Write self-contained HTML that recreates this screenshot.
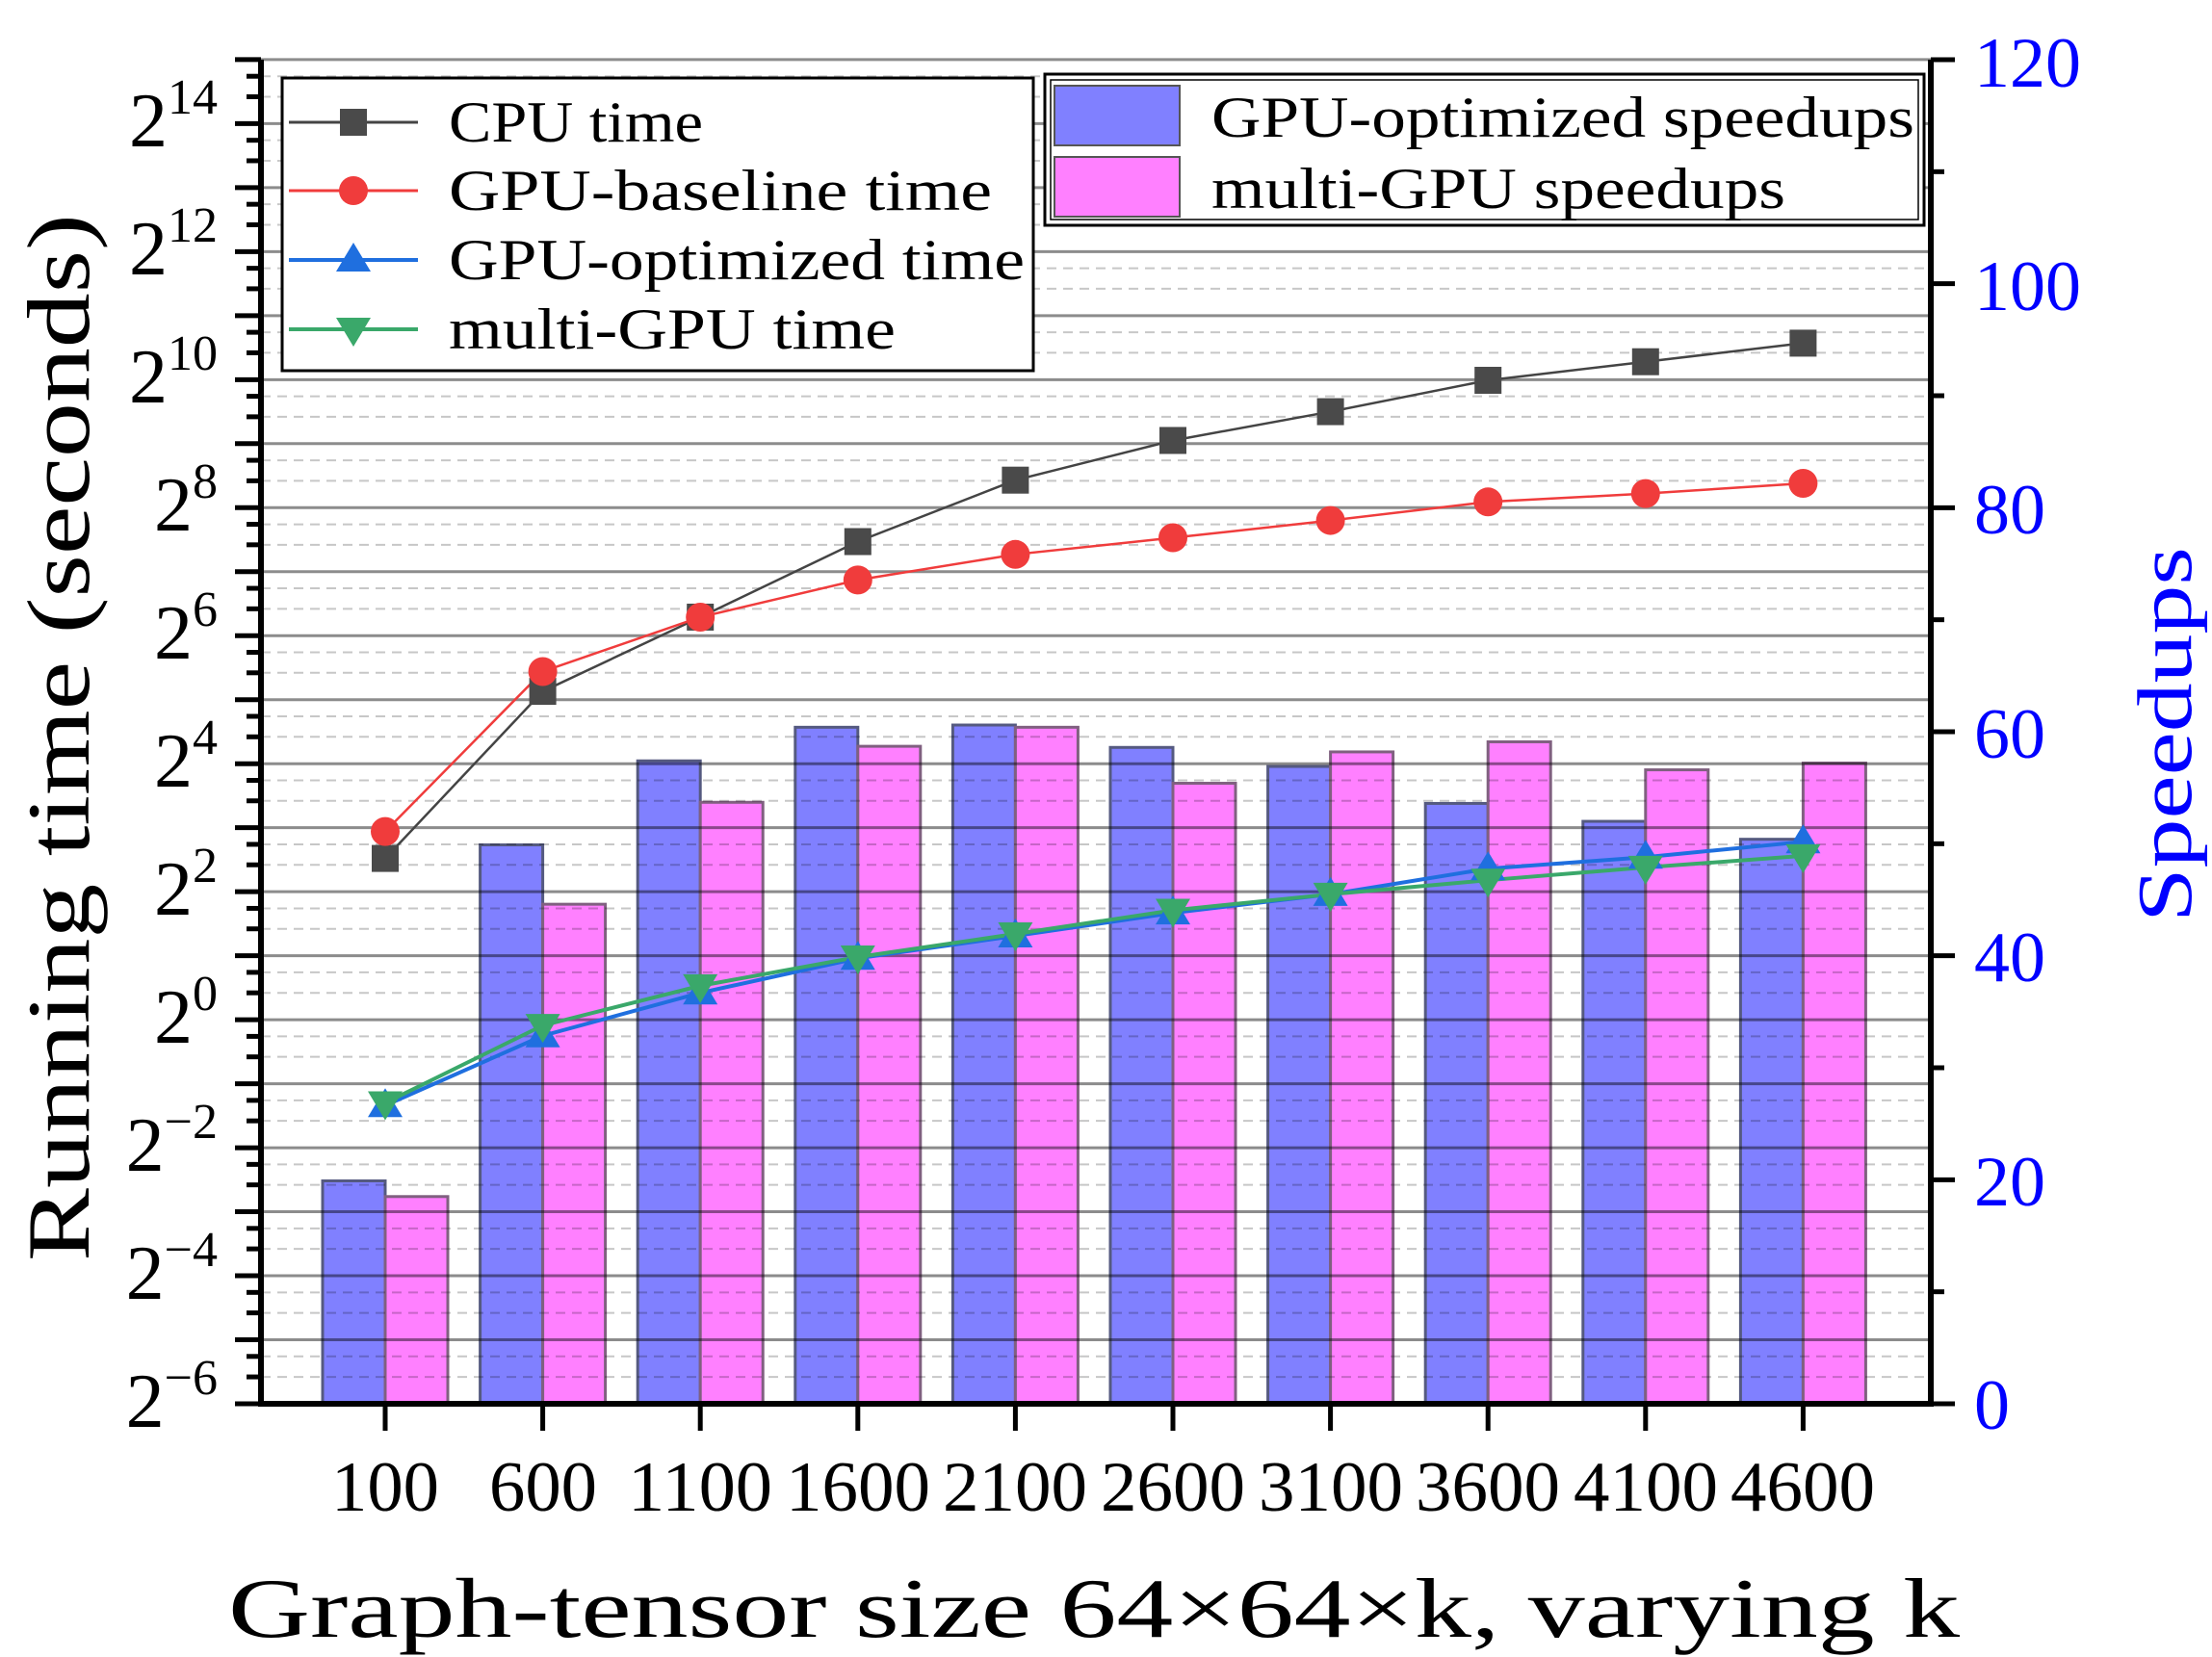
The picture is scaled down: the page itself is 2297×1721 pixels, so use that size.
<!DOCTYPE html>
<html><head><meta charset="utf-8"><style>
html,body{margin:0;padding:0;background:#fff;}
svg{display:block;}
text{font-family:"Liberation Serif","Noto Serif CJK SC",serif;}
</style></head><body>
<svg id="s" width="2297" height="1721" viewBox="0 0 2297 1721" xmlns="http://www.w3.org/2000/svg">
<g id="bars"></g>
<g id="grid"></g>
<g id="lines"></g>
<g id="axes"></g>
<!-- left y labels -->
<g font-size="80" text-anchor="end">
<text x="226" y="1482">2<tspan font-size="52" dy="-34">−6</tspan></text>
<text x="226" y="1349">2<tspan font-size="52" dy="-34">−4</tspan></text>
<text x="226" y="1216">2<tspan font-size="52" dy="-34">−2</tspan></text>
<text x="226" y="1083">2<tspan font-size="52" dy="-34">0</tspan></text>
<text x="226" y="950">2<tspan font-size="52" dy="-34">2</tspan></text>
<text x="226" y="817">2<tspan font-size="52" dy="-34">4</tspan></text>
<text x="226" y="684">2<tspan font-size="52" dy="-34">6</tspan></text>
<text x="226" y="551">2<tspan font-size="52" dy="-34">8</tspan></text>
<text x="226" y="418">2<tspan font-size="52" dy="-34">10</tspan></text>
<text x="226" y="285">2<tspan font-size="52" dy="-34">12</tspan></text>
<text x="226" y="152">2<tspan font-size="52" dy="-34">14</tspan></text>
</g>
<!-- right labels -->
<g font-size="74" fill="#0000ff">
<text x="2050" y="1484">0</text>
<text x="2050" y="1252">20</text>
<text x="2050" y="1019">40</text>
<text x="2050" y="787">60</text>
<text x="2050" y="554">80</text>
<text x="2050" y="322">100</text>
<text x="2050" y="90">120</text>
</g>
<!-- x labels -->
<g font-size="74" text-anchor="middle">
<text x="400" y="1569" textLength="112" lengthAdjust="spacingAndGlyphs">100</text>
<text x="564" y="1569" textLength="112" lengthAdjust="spacingAndGlyphs">600</text>
<text x="727" y="1569" textLength="150" lengthAdjust="spacingAndGlyphs">1100</text>
<text x="891" y="1569" textLength="150" lengthAdjust="spacingAndGlyphs">1600</text>
<text x="1054" y="1569" textLength="150" lengthAdjust="spacingAndGlyphs">2100</text>
<text x="1218" y="1569" textLength="150" lengthAdjust="spacingAndGlyphs">2600</text>
<text x="1382" y="1569" textLength="150" lengthAdjust="spacingAndGlyphs">3100</text>
<text x="1545" y="1569" textLength="150" lengthAdjust="spacingAndGlyphs">3600</text>
<text x="1709" y="1569" textLength="150" lengthAdjust="spacingAndGlyphs">4100</text>
<text x="1872" y="1569" textLength="150" lengthAdjust="spacingAndGlyphs">4600</text>
</g>
<text x="237" y="1700" font-size="88" textLength="1798" lengthAdjust="spacingAndGlyphs">Graph-tensor size 64×64×k, varying k</text>
<text transform="translate(92,1310) rotate(-90)" font-size="92" textLength="1088" lengthAdjust="spacingAndGlyphs">Running time (seconds)</text>
<text transform="translate(2275,958) rotate(-90)" font-size="80" fill="#0000ff" textLength="390" lengthAdjust="spacingAndGlyphs">Speedups</text>
<!-- legend 1 -->
<rect x="293" y="81" width="780" height="304" fill="#fff" stroke="#000" stroke-width="3"/>
<line x1="300" y1="127" x2="434" y2="127" stroke="#444" stroke-width="3"/>
<rect x="353" y="113" width="28" height="28" fill="#4a4a4a"/>
<line x1="300" y1="198" x2="434" y2="198" stroke="#f03c3c" stroke-width="3"/>
<circle cx="367" cy="198" r="15" fill="#f03c3c"/>
<line x1="300" y1="270" x2="434" y2="270" stroke="#1f6fdf" stroke-width="4"/>
<polygon points="367,252 385,282 349,282" fill="#1f6fdf"/>
<line x1="300" y1="342" x2="434" y2="342" stroke="#3aa86a" stroke-width="4"/>
<polygon points="367,360 385,330 349,330" fill="#3aa86a"/>
<g font-size="60">
<text x="466" y="147" textLength="264" lengthAdjust="spacingAndGlyphs">CPU time</text>
<text x="466" y="218" textLength="564" lengthAdjust="spacingAndGlyphs">GPU-baseline time</text>
<text x="466" y="290" textLength="598" lengthAdjust="spacingAndGlyphs">GPU-optimized time</text>
<text x="466" y="362" textLength="464" lengthAdjust="spacingAndGlyphs">multi-GPU time</text>
</g>
<!-- legend 2 -->
<rect x="1085" y="77" width="913" height="157" fill="#fff" stroke="#000" stroke-width="3"/>
<rect x="1091" y="83" width="901" height="145" fill="none" stroke="#000" stroke-width="1.5"/>
<rect x="1095" y="89" width="130" height="62" fill="#8080ff" stroke="#555" stroke-width="2"/>
<rect x="1095" y="163" width="130" height="62" fill="#ff80ff" stroke="#555" stroke-width="2"/>
<g font-size="60">
<text x="1258" y="142" textLength="730" lengthAdjust="spacingAndGlyphs">GPU-optimized speedups</text>
<text x="1258" y="216" textLength="596" lengthAdjust="spacingAndGlyphs">multi-GPU speedups</text>
</g>
</svg>
<script>
(function(){
var NS="http://www.w3.org/2000/svg";
function el(g,t,a){var e=document.createElementNS(NS,t);for(var k in a)e.setAttribute(k,a[k]);document.getElementById(g).appendChild(e);return e;}
var L=271,R=2005,T=62,B=1458;
function yL(e){return B-(e+6)*66.48;}
function yR(v){return B-v*1396/120;}
function xc(i){return 400+i*163.6;}
var blue=[19.9,49.9,57.4,60.4,60.6,58.6,56.9,53.6,52.0,50.4];
var pink=[18.5,44.6,53.7,58.7,60.4,55.4,58.2,59.1,56.6,57.2];
for(var i=0;i<10;i++){
 el("bars","rect",{x:xc(i)-65,y:yR(blue[i]),width:65,height:B-yR(blue[i]),fill:"#8080ff",stroke:"#555a80","stroke-width":3});
 el("bars","rect",{x:xc(i),y:yR(pink[i]),width:65,height:B-yR(pink[i]),fill:"#ff80ff",stroke:"#806080","stroke-width":3});
}
for(var e=-6;e<=15;e++){
 el("grid","line",{x1:L,x2:R,y1:yL(e),y2:yL(e),stroke:"#000","stroke-opacity":0.45,"stroke-width":3});
 if(e<15){[0.42,0.74].forEach(function(f){
  el("grid","line",{x1:L,x2:R,y1:yL(e+f),y2:yL(e+f),stroke:"#000","stroke-opacity":0.22,"stroke-width":2,"stroke-dasharray":"10,7"});
  el("axes","line",{x1:L-15,x2:L,y1:yL(e+f),y2:yL(e+f),stroke:"#000","stroke-width":5});
 });}
 el("axes","line",{x1:L-27,x2:L,y1:yL(e),y2:yL(e),stroke:"#000","stroke-width":5});
}
var series=[
 {d:[2.52,5.13,6.29,7.47,8.43,9.05,9.50,9.99,10.28,10.57],c:"#444",m:"#4a4a4a",t:"sq",w:2.5},
 {d:[2.94,5.44,6.29,6.87,7.27,7.53,7.80,8.09,8.22,8.38],c:"#f03c3c",m:"#f03c3c",t:"ci",w:2.5},
 {d:[-1.34,-0.25,0.42,0.96,1.31,1.67,1.96,2.36,2.54,2.78],c:"#1f6fdf",m:"#1f6fdf",t:"up",w:4},
 {d:[-1.30,-0.09,0.53,0.98,1.34,1.71,1.96,2.18,2.38,2.56],c:"#3aa86a",m:"#3aa86a",t:"dn",w:4}
];
series.forEach(function(s){
 var p=s.d.map(function(v,i){return xc(i)+","+yL(v);}).join(" ");
 el("lines","polyline",{points:p,fill:"none",stroke:s.c,"stroke-width":s.w});
});
series.forEach(function(s){
 s.d.forEach(function(v,i){var x=xc(i),y=yL(v);
  if(s.t=="sq")el("lines","rect",{x:x-14,y:y-14,width:28,height:28,fill:s.m});
  else if(s.t=="ci")el("lines","circle",{cx:x,cy:y,r:15,fill:s.m});
  else if(s.t=="up")el("lines","polygon",{points:(x)+","+(y-18)+" "+(x+18)+","+(y+12)+" "+(x-18)+","+(y+12),fill:s.m});
  else el("lines","polygon",{points:(x)+","+(y+18)+" "+(x+18)+","+(y-12)+" "+(x-18)+","+(y-12),fill:s.m});
 });
});
el("axes","line",{x1:L,x2:L,y1:T,y2:B+3,stroke:"#000","stroke-width":6});
el("axes","line",{x1:R,x2:R,y1:T,y2:B+3,stroke:"#000","stroke-width":6});
el("axes","line",{x1:L-3,x2:R+3,y1:B,y2:B,stroke:"#000","stroke-width":6});
for(var v=0;v<=120;v+=10){
 var len=(v%20==0)?25:14;
 el("axes","line",{x1:R,x2:R+len,y1:yR(v),y2:yR(v),stroke:"#000","stroke-width":5});
}
for(var i=0;i<10;i++)el("axes","line",{x1:xc(i),x2:xc(i),y1:B,y2:B+28,stroke:"#000","stroke-width":5});
})();
</script>
</body></html>
